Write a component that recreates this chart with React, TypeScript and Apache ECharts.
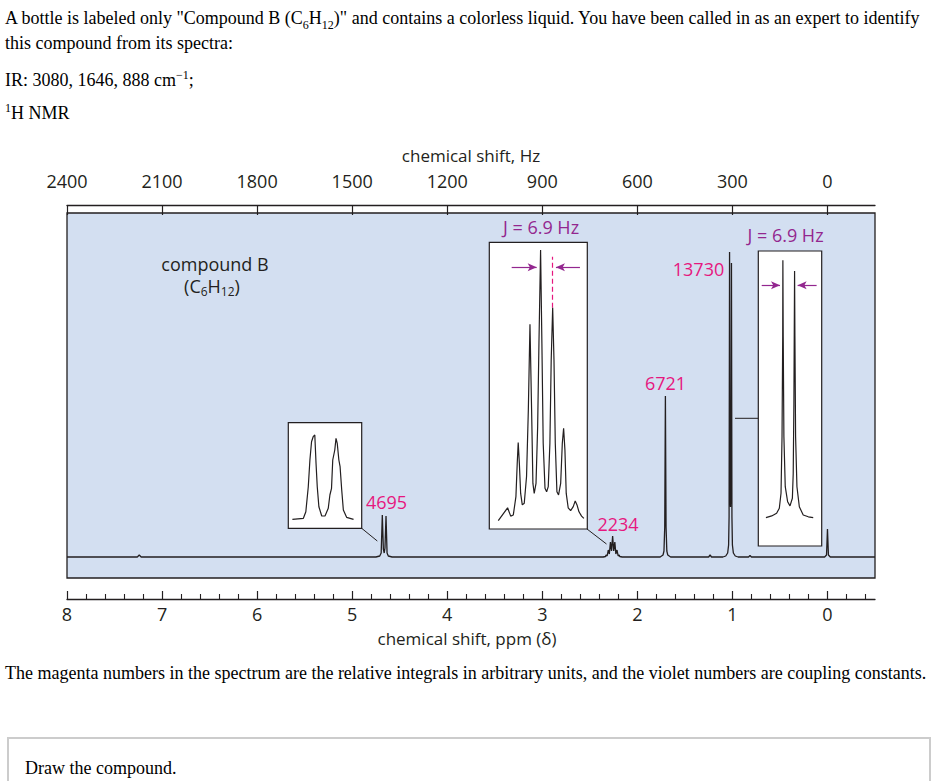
import React, { useEffect, useRef } from 'react';
import * as echarts from 'echarts';

// ---------- data ----------
const ppmMajorTicks = [8, 7, 6, 5, 4, 3, 2, 1, 0];
const ppmMinorTicks = [
  7.8, 7.6, 7.4, 7.2, 6.8, 6.6, 6.4, 6.2, 5.8, 5.6, 5.4, 5.2, 4.8, 4.6, 4.4, 4.2,
  3.8, 3.6, 3.4, 3.2, 2.8, 2.6, 2.4, 2.2, 1.8, 1.6, 1.4, 1.2, 0.8, 0.6, 0.4, 0.2, -0.2, -0.4,
];
const hzTicks = [2400, 2100, 1800, 1500, 1200, 900, 600, 300, 0];

// main spectrum: [ppm, intensity]
const spectrum: [number, number][] = [
  [8.0, 0], [7.26, 0], [7.24, 2], [7.22, 0],
  [4.75, 0], [4.71, 1], [4.695, 4], [4.683, 42], [4.672, 8], [4.663, 4], [4.655, 9], [4.644, 41], [4.633, 4], [4.62, 1], [4.58, 0],
  [2.36, 0], [2.335, 0.5], [2.329, 2], [2.318, 1], [2.306, 7], [2.295, 3], [2.283, 15], [2.272, 6], [2.26, 21],
  [2.249, 6], [2.237, 15], [2.226, 3], [2.214, 7], [2.202, 1], [2.191, 2], [2.185, 0.5], [2.16, 0],
  [1.76, 0], [1.73, 2], [1.72, 6], [1.712, 30], [1.705, 161], [1.698, 30], [1.69, 6], [1.68, 2], [1.65, 0],
  [1.25, 0], [1.235, 2], [1.22, 0],
  [1.1, 0], [1.07, 1], [1.05, 4], [1.04, 12], [1.035, 40], [1.03, 305], [1.025, 60], [1.02, 50], [1.015, 70],
  [1.01, 294], [1.005, 40], [1.0, 12], [0.99, 4], [0.97, 1], [0.94, 0],
  [0.83, 0], [0.815, 1.5], [0.8, 0],
  [0.03, 0], [0.01, 2], [0.0, 28], [-0.01, 2], [-0.03, 0],
  [-0.5, 0],
];

// inset of the =CH2 signal: [ppm, height]
const vinylInset: [number, number][] = [
  [4.74, 9], [4.713, 10], [4.707, 16.6], [4.701, 41.6], [4.697, 68.3], [4.693, 86.6], [4.689, 91.6], [4.685, 93.3],
  [4.682, 65], [4.679, 41.6], [4.675, 21.6], [4.668, 12.3], [4.66, 12.3], [4.652, 20], [4.648, 33.3], [4.644, 40],
  [4.641, 68.3], [4.636, 78.3], [4.633, 90], [4.63, 85], [4.626, 68.3], [4.623, 61.6], [4.619, 38.3], [4.615, 18.3],
  [4.607, 11], [4.59, 9],
];

// inset of the CH multiplet: [Hz from left edge, % height]
const methineInset: [number, number][] = [
  [5.5, 2.9], [11.2, 7.4], [13.1, 4.5], [14.7, 4.9], [16.3, 11.3], [17.1, 22.9], [17.7, 30.2], [18.4, 22.9],
  [19.2, 12.4], [20.2, 8.4], [21.4, 9.0], [22.8, 18.3], [23.9, 41.5], [24.9, 71.4], [25.9, 41.5], [26.7, 15.9],
  [27.5, 12.4], [28.6, 15.9], [29.6, 35.7], [30.4, 64.8], [31.4, 97.3], [32.2, 64.8], [33.0, 29.9], [34.1, 14.2],
  [35.1, 13.0], [36.1, 14.8], [37.1, 29.9], [37.9, 59.0], [38.8, 77.2], [39.6, 59.0], [40.4, 29.9], [41.4, 13.0],
  [42.4, 11.9], [43.7, 15.9], [44.7, 29.9], [45.5, 35.1], [46.3, 27.6], [47.1, 12.4], [48.3, 7.4], [49.8, 6.4],
  [51.4, 7.8], [52.6, 9.8], [53.7, 8.4], [54.9, 6.0], [56.5, 4.5], [57.9, 3.7],
];

// inset of the CH3 doublet: [Hz from left edge, % height]
const methylInset: [number, number][] = [
  [4.5, 9.6], [7.9, 10.2], [10.8, 11.1], [12.4, 12.8], [13.4, 17.9], [14.0, 37.1], [14.4, 71.0], [14.5, 96.9],
  [14.7, 71.0], [15.1, 37.1], [15.9, 20.1], [17.3, 15.0], [18.7, 13.6], [20.1, 16.2], [20.6, 24.6], [21.0, 48.4],
  [21.4, 93.2], [21.6, 71.0], [22.0, 37.1], [22.8, 20.1], [24.2, 13.3], [26.5, 10.5], [29.5, 9.9], [32.4, 9.6],
];

const integralValues = ['4695', '2234', '6721', '13730'];
const couplingLabels = ['J = 6.9 Hz', 'J = 6.9 Hz'];

// ---------- styles / positions ----------
const FONT = "'Open Sans', sans-serif";
const INK = '#231f20';
const MAGENTA = '#e6177f';
const VIOLET = '#93278f';
const BLUE = '#d3dff1';

const integralPos = [
  [386.5, 501.5],
  [618, 523.5],
  [665.5, 383],
  [698.5, 269],
];
const couplingPos = [
  [541, 227],
  [785.5, 235],
];

function txt(text: string, x: number, y: number, size: number, fill: string, align = 'center') {
  return {
    type: 'text',
    x,
    y,
    z: 100,
    silent: true,
    style: {
      text,
      fill,
      fontSize: size,
      fontFamily: FONT,
      textAlign: align,
      textVerticalAlign: 'middle',
    },
  };
}

function seg(x1: number, y1: number, x2: number, y2: number) {
  return {
    type: 'line',
    z: 100,
    silent: true,
    shape: { x1, y1, x2, y2 },
    style: { stroke: INK, lineWidth: 1 },
  };
}

const hiddenAxis = (gridIndex: number, min: number, max: number, inverse = false) => ({
  gridIndex,
  type: 'value',
  min,
  max,
  inverse,
  show: false,
  axisLine: { show: false, onZero: false },
  splitLine: { show: false },
});

const plain = (v: number) => String(v);

function buildOption() {
  const graphics: any[] = [];
  integralValues.forEach((v, i) => graphics.push(txt(v, integralPos[i][0], integralPos[i][1], 18, MAGENTA)));
  couplingLabels.forEach((v, i) => graphics.push(txt(v, couplingPos[i][0], couplingPos[i][1], 18, VIOLET)));
  graphics.push(txt('chemical shift, Hz', 471, 155, 17, INK));
  graphics.push(txt('chemical shift, ppm (δ)', 467, 638.5, 17, INK));
  graphics.push(txt('compound B', 215, 264, 18, INK));
  // (C6H12) as one rich text
  graphics.push({
    type: 'text',
    x: 212,
    y: 286,
    z: 100,
    silent: true,
    style: {
      text: '{n|(C}{s|6}{n|H}{s|12}{n|)}',
      fill: INK,
      fontSize: 18,
      fontFamily: FONT,
      textAlign: 'center',
      textVerticalAlign: 'middle',
      rich: {
        n: { fontSize: 18, fontFamily: FONT, fill: INK, lineHeight: 22, verticalAlign: 'middle' },
        s: { fontSize: 12, fontFamily: FONT, fill: INK, lineHeight: 22, verticalAlign: 'bottom' },
      },
    },
  });
  // connectors
  graphics.push(seg(361.7, 528.3, 377.3, 541));
  graphics.push(seg(587, 529, 606.5, 544));
  graphics.push(seg(735, 418.3, 758.3, 418.3));

  const insetGrid = (left: number, top: number, width: number, height: number) => ({
    left, top, width, height, show: true, backgroundColor: '#ffffff', borderColor: INK, borderWidth: 1.2,
    containLabel: false, outerBoundsMode: 'none',
  });

  const arrowPair = (x1: number, x2: number, y: number) => [
    { coord: [x1, y], symbol: 'none' },
    { coord: [x2, y], symbol: 'arrow', symbolSize: [6, 9] },
  ];

  return {
    animation: false,
    backgroundColor: 'transparent',
    grid: [
      {
        left: 67, top: 213, width: 808, height: 365, show: true, backgroundColor: BLUE,
        borderColor: INK, borderWidth: 1.3, containLabel: false, outerBoundsMode: 'none',
      },
      insetGrid(288.3, 422.7, 73.4, 105.6),
      insetGrid(489.3, 242.3, 98, 286.7),
      insetGrid(758.3, 251, 63.4, 295),
    ],
    xAxis: [
      {
        gridIndex: 0, type: 'value', min: -0.5, max: 8, inverse: true, position: 'bottom', offset: 21,
        axisLine: { show: true, onZero: false, lineStyle: { color: INK, width: 1.3 } },
        axisTick: { show: true, inside: true, length: 8, customValues: ppmMajorTicks, lineStyle: { color: INK, width: 1.2 } },
        axisLabel: { show: true, customValues: ppmMajorTicks, formatter: plain, margin: 5.5, fontSize: 18, fontFamily: FONT, color: INK },
        splitLine: { show: false },
      },
      {
        gridIndex: 0, type: 'value', min: -0.5, max: 8, inverse: true, position: 'bottom', offset: 21,
        axisLine: { show: false, onZero: false },
        axisTick: { show: true, inside: true, length: 5, customValues: ppmMinorTicks, lineStyle: { color: INK, width: 1.1 } },
        axisLabel: { show: false },
        splitLine: { show: false },
      },
      {
        gridIndex: 0, type: 'value', min: -150, max: 2400, inverse: true, position: 'top', offset: 8,
        axisLine: { show: true, onZero: false, lineStyle: { color: INK, width: 1.3 } },
        axisTick: { show: true, inside: true, length: 10, customValues: hzTicks, lineStyle: { color: INK, width: 1.2 } },
        axisLabel: { show: true, customValues: hzTicks, formatter: plain, margin: 15, fontSize: 18, fontFamily: FONT, color: INK },
        splitLine: { show: false },
      },
      hiddenAxis(1, 4.57, 4.75, true),
      hiddenAxis(2, 0, 60),
      hiddenAxis(3, 0, 37.4),
    ],
    yAxis: [
      hiddenAxis(0, -21, 344),
      hiddenAxis(1, 0, 105.6),
      hiddenAxis(2, 0, 100),
      hiddenAxis(3, 0, 100),
    ],
    series: [
      {
        type: 'line', xAxisIndex: 0, yAxisIndex: 0, data: spectrum, showSymbol: false, symbol: 'none',
        lineStyle: { color: INK, width: 1.3 }, silent: true, z: 3,
      },
      {
        type: 'line', xAxisIndex: 3, yAxisIndex: 1, data: vinylInset, showSymbol: false, symbol: 'none',
        lineStyle: { color: INK, width: 1.2 }, silent: true, z: 5,
      },
      {
        type: 'line', xAxisIndex: 4, yAxisIndex: 2, data: methineInset, showSymbol: false, symbol: 'none',
        lineStyle: { color: INK, width: 1.2 }, silent: true, z: 5,
        markLine: {
          silent: true, animation: false, label: { show: false },
          lineStyle: { color: VIOLET, width: 1.2, type: 'solid' },
          emphasis: { disabled: true },
          data: [
            arrowPair(13.7, 29.0, 91.3),
            arrowPair(55.5, 40.8, 91.3),
            [
              { coord: [38.8, 77.2], symbol: 'none', lineStyle: { color: MAGENTA, type: [5, 3], width: 1.2 } },
              { coord: [38.8, 95], symbol: 'none' },
            ],
          ],
        },
      },
      {
        type: 'line', xAxisIndex: 5, yAxisIndex: 3, data: methylInset, showSymbol: false, symbol: 'none',
        lineStyle: { color: INK, width: 1.2 }, silent: true, z: 5,
        markLine: {
          silent: true, animation: false, label: { show: false },
          lineStyle: { color: VIOLET, width: 1.2, type: 'solid' },
          emphasis: { disabled: true },
          data: [arrowPair(2.0, 12.8, 88.4), arrowPair(34.4, 23.2, 88.4)],
        },
      },
    ],
    graphic: graphics,
  };
}

const serif: React.CSSProperties = {
  position: 'absolute',
  fontFamily: "'Liberation Serif', 'Times New Roman', serif",
  fontSize: 18,
  lineHeight: '20px',
  color: '#000',
  whiteSpace: 'nowrap',
  margin: 0,
  zIndex: 2,
};
const subStyle: React.CSSProperties = { fontSize: 12, verticalAlign: 'sub', lineHeight: 0 };
const supStyle: React.CSSProperties = { fontSize: 12, verticalAlign: 'super', lineHeight: 0 };

export default function App() {
  const ref = useRef<HTMLDivElement>(null);
  useEffect(() => {
    if (!ref.current) return;
    const chart = echarts.init(ref.current, undefined, { renderer: 'svg' });
    chart.setOption(buildOption() as any);
    return () => chart.dispose();
  }, []);

  return (
    <div style={{ position: 'absolute', left: 0, top: 0, width: 934, height: 781, overflow: 'hidden', background: '#fff' }}>
      <div ref={ref} style={{ position: 'absolute', left: 0, top: 0, width: 934, height: 781, zIndex: 1 }} />
      <div style={{ ...serif, left: 5, top: 8 }}>
        A bottle is labeled only "Compound B (C<sub style={subStyle}>6</sub>H<sub style={subStyle}>12</sub>)" and contains a
        colorless liquid. You have been called in as an expert to identify
      </div>
      <div style={{ ...serif, left: 5, top: 33 }}>this compound from its spectra:</div>
      <div style={{ ...serif, left: 5, top: 70 }}>
        IR: 3080, 1646, 888 cm<sup style={supStyle}>−1</sup>;
      </div>
      <div style={{ ...serif, left: 5, top: 103 }}>
        <sup style={supStyle}>1</sup>H NMR
      </div>
      <div style={{ ...serif, left: 5, top: 663 }}>
        The magenta numbers in the spectrum are the relative integrals in arbitrary units, and the violet numbers are coupling
        constants.
      </div>
      <div
        style={{
          position: 'absolute', left: 7, top: 737, width: 920, height: 50, border: '2px solid #cccccc',
          borderBottom: 'none', boxSizing: 'content-box', zIndex: 2,
        }}
      />
      <div style={{ ...serif, left: 25, top: 758 }}>Draw the compound.</div>
    </div>
  );
}
